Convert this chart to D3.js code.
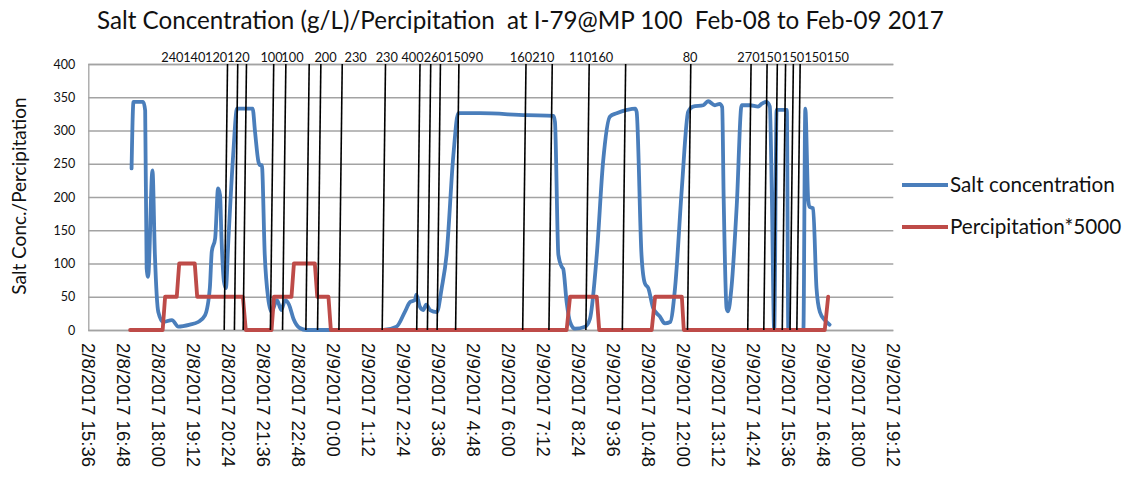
<!DOCTYPE html>
<html>
<head>
<meta charset="utf-8">
<script src="https://cdn.jsdelivr.net/npm/d3@7"></script>
<style>
  html, body { margin: 0; padding: 0; background: #ffffff; }
  svg { display: block; }
</style>
</head>
<body>
<svg id="chart" width="1127" height="487"></svg>
<script>
// ---- Chart text ----
const chartTitle = "Salt Concentration (g/L)/Percipitation  at I-79@MP 100  Feb-08 to Feb-09 2017";
const yAxisTitle = "Salt Conc./Percipitation";
const seriesNames = ["Salt concentration", "Percipitation*5000"];
const precipMultiplier = 5000;

// ---- Axis ticks ----
const xTickLabels = [
  "2/8/2017 15:36", "2/8/2017 16:48", "2/8/2017 18:00", "2/8/2017 19:12",
  "2/8/2017 20:24", "2/8/2017 21:36", "2/8/2017 22:48", "2/9/2017 0:00",
  "2/9/2017 1:12", "2/9/2017 2:24", "2/9/2017 3:36", "2/9/2017 4:48",
  "2/9/2017 6:00", "2/9/2017 7:12", "2/9/2017 8:24", "2/9/2017 9:36",
  "2/9/2017 10:48", "2/9/2017 12:00", "2/9/2017 13:12", "2/9/2017 14:24",
  "2/9/2017 15:36", "2/9/2017 16:48", "2/9/2017 18:00", "2/9/2017 19:12"
];
const yTicks = [0, 50, 100, 150, 200, 250, 300, 350, 400];

// ---- Salt concentration (g/L) ----
const saltTimes = [
  "2/8 17:05", "2/8 17:09", "2/8 17:29", "2/8 17:33", "2/8 17:36", "2/8 17:39",
  "2/8 17:48", "2/8 17:53", "2/8 18:00", "2/8 18:10", "2/8 18:28", "2/8 18:41",
  "2/8 19:05", "2/8 19:22", "2/8 19:36", "2/8 19:46", "2/8 19:50", "2/8 19:57",
  "2/8 20:03", "2/8 20:07", "2/8 20:10", "2/8 20:15", "2/8 20:19", "2/8 20:24",
  "2/8 20:34", "2/8 20:42", "2/8 21:14", "2/8 21:19", "2/8 21:26", "2/8 21:29",
  "2/8 21:33", "2/8 21:39", "2/8 21:46", "2/8 21:53", "2/8 22:04", "2/8 22:13",
  "2/8 22:21", "2/8 22:29", "2/8 22:38", "2/8 22:51", "2/8 23:05", "2/8 23:50",
  "2/9 1:43", "2/9 2:10", "2/9 2:27", "2/9 2:38", "2/9 2:48", "2/9 2:51",
  "2/9 2:58", "2/9 3:05", "2/9 3:11", "2/9 3:19", "2/9 3:33", "2/9 3:43",
  "2/9 3:53", "2/9 4:07", "2/9 4:17", "2/9 5:02", "2/9 6:38", "2/9 7:33",
  "2/9 7:36", "2/9 7:43", "2/9 7:50", "2/9 7:53", "2/9 8:00", "2/9 8:07",
  "2/9 8:17", "2/9 8:38", "2/9 8:48", "2/9 9:02", "2/9 9:15", "2/9 9:29",
  "2/9 9:43", "2/9 10:04", "2/9 10:21", "2/9 10:24", "2/9 10:34", "2/9 10:41",
  "2/9 10:48", "2/9 10:58", "2/9 11:12", "2/9 11:22", "2/9 11:33", "2/9 11:43",
  "2/9 11:57", "2/9 12:10", "2/9 12:20", "2/9 12:41", "2/9 12:51", "2/9 13:05",
  "2/9 13:15", "2/9 13:20", "2/9 13:23", "2/9 13:29", "2/9 13:32", "2/9 13:39",
  "2/9 13:50", "2/9 14:00", "2/9 14:17", "2/9 14:34", "2/9 14:41", "2/9 14:51",
  "2/9 14:58", "2/9 15:02", "2/9 15:07", "2/9 15:12", "2/9 15:33", "2/9 15:36",
  "2/9 16:07", "2/9 16:11", "2/9 16:17", "2/9 16:20", "2/9 16:27", "2/9 16:34",
  "2/9 16:41", "2/9 16:51", "2/9 17:01"
];
const saltValues = [
  243, 343, 343, 330, 93, 80,
  240, 113, 27, 12, 15, 5,
  8, 12, 22, 63, 118, 138,
  213, 203, 138, 73, 63, 133,
  263, 333, 333, 298, 253, 248,
  248, 113, 48, 27, 45, 30,
  45, 38, 17, 3, 0, 0,
  0, 5, 27, 42, 45, 53,
  35, 30, 38, 30, 27, 63,
  113, 263, 326, 326, 323, 322,
  313, 113, 95, 92, 42, 12,
  2, 5, 17, 113, 253, 321,
  326, 331, 333, 328, 113, 70,
  63, 33, 20, 10, 12, 63,
  213, 328, 336, 338, 344, 338,
  340, 335, 200, 33, 28, 63,
  188, 338, 338, 336, 340, 343,
  336, 210, 0, 331, 331, 0,
  0, 333, 195, 185, 183, 63,
  27, 15, 8
];

// ---- Precipitation (in), plotted ×5000 ----
const precipTimes = [
  "2/8 17:02", "2/8 18:09", "2/8 18:14", "2/8 18:38", "2/8 18:43", "2/8 19:15",
  "2/8 19:20", "2/8 20:54", "2/8 21:00", "2/8 21:53", "2/8 21:58", "2/8 22:34",
  "2/8 22:39", "2/8 23:22", "2/8 23:27", "2/8 23:50", "2/8 23:55", "2/9 8:00",
  "2/9 8:07", "2/9 9:02", "2/9 9:07", "2/9 10:55", "2/9 11:02", "2/9 11:57",
  "2/9 12:01", "2/9 16:51", "2/9 16:58"
];
const precipValues = [
  0, 0, 0.01, 0.01, 0.02, 0.02,
  0.01, 0.01, 0, 0, 0.01, 0.01,
  0.02, 0.02, 0.01, 0.01, 0, 0,
  0.01, 0.01, 0, 0, 0.01, 0.01,
  0, 0, 0.01
];

// ---- Event markers (vertical lines) and their labels ----
const eventTimes = [
  "2/8 20:19", "2/8 20:40", "2/8 20:58", "2/8 21:54", "2/8 22:19", "2/8 23:07",
  "2/8 23:31", "2/9 0:15", "2/9 1:44", "2/9 2:55", "2/9 3:17", "2/9 3:37",
  "2/9 4:15", "2/9 6:33", "2/9 7:27", "2/9 8:43", "2/9 9:58", "2/9 12:12",
  "2/9 14:16", "2/9 14:49", "2/9 15:10", "2/9 15:27", "2/9 15:43", "2/9 15:57"
];
const eventLabelTimes = [
  "2/8 18:29", "2/8 19:14", "2/8 19:59", "2/8 20:45", "2/8 21:53", "2/8 22:36",
  "2/8 23:44", "2/9 0:46", "2/9 1:50", "2/9 2:43", "2/9 3:29", "2/9 4:15",
  "2/9 4:53", "2/9 6:26", "2/9 7:12", "2/9 8:28", "2/9 9:13", "2/9 12:14",
  "2/9 14:14", "2/9 14:59", "2/9 15:46", "2/9 16:32", "2/9 17:18"
];
const eventLabelTexts = [
  "240", "140", "120", "120", "100", "100",
  "200", "230", "230", "400", "260", "150",
  "90", "160", "210", "110", "160", "80",
  "270", "150", "150", "150", "150"
];

// ---- Parsing ----
const parseFull = d3.timeParse("%m/%d/%Y %H:%M");
const parseShort = s => {
  const [day, clock] = s.split(" ");
  return parseFull(`${day}/2017 ${clock}`);
};

const saltData = saltTimes.map((t, i) => ({ t: parseShort(t), v: saltValues[i] }));
const precipData = precipTimes.map((t, i) => ({ t: parseShort(t), v: precipValues[i] * precipMultiplier }));
const events = eventTimes.map(parseShort);
const eventLabels = eventLabelTimes.map((t, i) => ({ t: parseShort(t), text: eventLabelTexts[i] }));
const xTickDates = xTickLabels.map(parseFull);

// ---- Layout ----
const plot = { left: 88.3, right: 893.3, top: 64, bottom: 330 };
const colors = { salt: "#4a7ebb", precip: "#be4b48", grid: "#a3a3a3", event: "#000000", text: "#111111" };
const uiFont = "Lato, 'Open Sans', sans-serif";

const svg = d3.select("#chart");

const x = d3.scaleTime()
  .domain([xTickDates[0], xTickDates[xTickDates.length - 1]])
  .range([plot.left, plot.right]);
const y = d3.scaleLinear().domain([0, 400]).range([plot.bottom, plot.top]);

// Title
svg.append("text")
  .attr("x", 97).attr("y", 29)
  .style("white-space", "pre")
  .attr("font-family", uiFont)
  .attr("font-size", 24.2)
  .attr("fill", colors.text)
  .text(chartTitle);

// Horizontal gridlines + value labels
const yAxis = d3.axisLeft(y).tickValues(yTicks).tickSize(-(plot.right - plot.left)).tickPadding(13);
const yG = svg.append("g")
  .attr("transform", `translate(${plot.left},0)`)
  .call(yAxis);
yG.select(".domain").attr("stroke", colors.grid).attr("stroke-width", 1.3);
yG.selectAll(".tick line").attr("stroke", colors.grid).attr("stroke-width", 1.3);
yG.selectAll(".tick text")
  .attr("font-family", uiFont)
  .attr("font-size", 12.5)
  .attr("fill", colors.text);

// Time axis labels, rotated to read downward
const xAxis = d3.axisBottom(x).tickValues(xTickDates).tickSize(0).tickFormat((d, i) => xTickLabels[i]);
const xG = svg.append("g")
  .attr("transform", `translate(0,${plot.bottom})`)
  .call(xAxis);
xG.select(".domain").remove();
xG.selectAll(".tick text")
  .attr("font-family", "'Liberation Sans', Arial, sans-serif")
  .attr("font-size", 18.6)
  .attr("fill", colors.text)
  .attr("text-anchor", "start")
  .attr("transform", "translate(0,13) rotate(90)")
  .attr("x", 0).attr("y", 0)
  .attr("dy", "0.35em");

// Y axis title
svg.append("text")
  .attr("transform", `translate(26,${(plot.top + plot.bottom) / 2 - 1}) rotate(-90)`)
  .attr("text-anchor", "middle")
  .attr("font-family", uiFont)
  .attr("font-size", 19)
  .attr("fill", colors.text)
  .text(yAxisTitle);

// Series lines
const saltLine = d3.line().x(d => x(d.t)).y(d => y(d.v)).curve(d3.curveMonotoneX);
const precipLine = d3.line().x(d => x(d.t)).y(d => y(d.v));

svg.append("path")
  .datum(saltData)
  .attr("fill", "none")
  .attr("stroke", colors.salt)
  .attr("stroke-width", 3.8)
  .attr("stroke-linejoin", "round")
  .attr("stroke-linecap", "round")
  .attr("d", saltLine);

svg.append("path")
  .datum(precipData)
  .attr("fill", "none")
  .attr("stroke", colors.precip)
  .attr("stroke-width", 3.8)
  .attr("stroke-linejoin", "round")
  .attr("stroke-linecap", "round")
  .attr("d", precipLine);

// Event markers: slightly leaning lines from 0 to 400
const lean = 3.3;
svg.append("g").selectAll("line")
  .data(events)
  .join("line")
  .attr("x1", d => x(d) - lean / 2).attr("y1", y(0))
  .attr("x2", d => x(d) + lean / 2).attr("y2", y(400))
  .attr("stroke", colors.event)
  .attr("stroke-width", 1.6);

svg.append("g").selectAll("text")
  .data(eventLabels)
  .join("text")
  .attr("x", d => x(d.t))
  .attr("y", 61.5)
  .attr("text-anchor", "middle")
  .attr("font-family", uiFont)
  .attr("font-size", 12.8)
  .attr("fill", colors.text)
  .text(d => d.text);

// Legend
const legend = svg.append("g");
const legendItems = [
  { name: seriesNames[0], color: colors.salt, y: 185 },
  { name: seriesNames[1], color: colors.precip, y: 227 }
];
legendItems.forEach(item => {
  legend.append("line")
    .attr("x1", 902).attr("x2", 948)
    .attr("y1", item.y).attr("y2", item.y)
    .attr("stroke", item.color)
    .attr("stroke-width", 3.8);
  legend.append("text")
    .attr("x", 950).attr("y", item.y)
    .attr("dy", "0.35em")
    .attr("font-family", uiFont)
    .attr("font-size", 20.7)
    .attr("fill", colors.text)
    .text(item.name);
});
</script>
</body>
</html>
